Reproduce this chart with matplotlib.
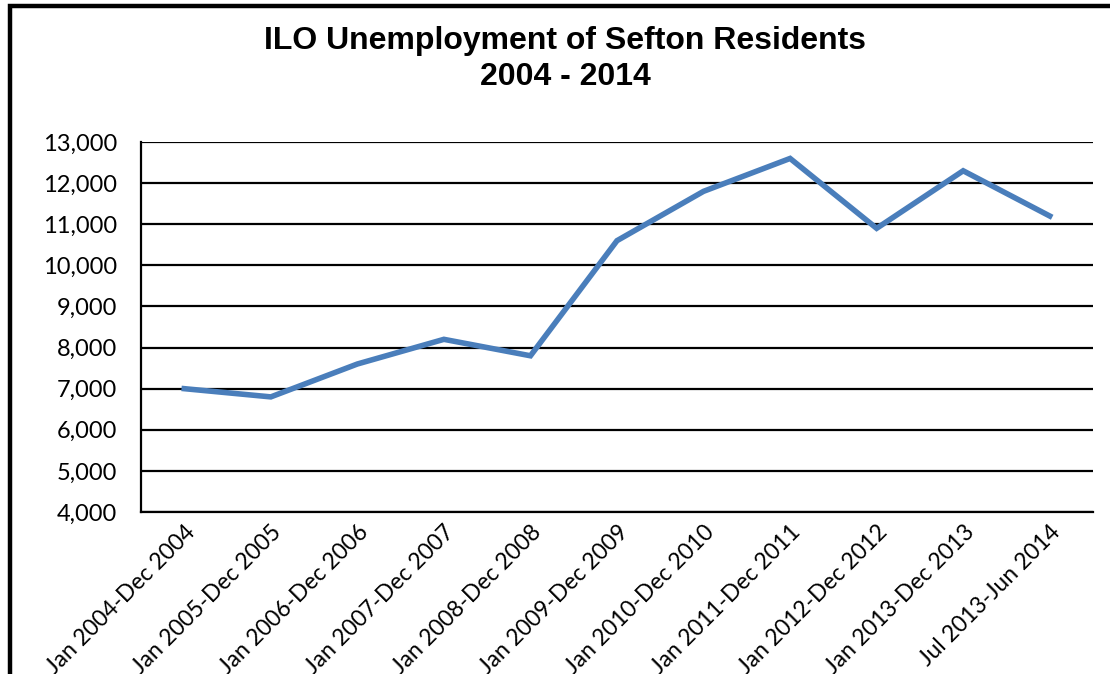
import matplotlib
matplotlib.use("Agg")
import matplotlib.pyplot as plt
from matplotlib.patches import Rectangle
from matplotlib.ticker import FuncFormatter

categories = ["Jan 2004-Dec 2004", "Jan 2005-Dec 2005", "Jan 2006-Dec 2006",
              "Jan 2007-Dec 2007", "Jan 2008-Dec 2008", "Jan 2009-Dec 2009",
              "Jan 2010-Dec 2010", "Jan 2011-Dec 2011", "Jan 2012-Dec 2012",
              "Jan 2013-Dec 2013", "Jul 2013-Jun 2014"]
values = [7000, 6800, 7600, 8200, 7800, 10600, 11800, 12600, 10900, 12300, 11200]
yticks = list(range(4000, 14000, 1000))

W, H = 1110, 674
fig = plt.figure(figsize=(W / 100, H / 100), dpi=100)
fig.patch.set_facecolor("white")

# outer chart border (cropped at right/bottom)
fig.add_artist(Rectangle((10 / W, -0.1), 1.2, 1 - 6 / H + 0.1, transform=fig.transFigure,
                         fill=False, edgecolor="black", linewidth=3.2))

ax = fig.add_axes([141 / W, 1 - 512 / H, (1093 - 141) / W, (512 - 142) / H])
x = list(range(len(categories)))
ax.plot(x, values, color="#4A7EBB", linewidth=4.0, solid_joinstyle="miter", zorder=3)
ax.set_xlim(-0.5, len(categories) - 0.5)
ax.set_ylim(4000, 13000)
ax.set_yticks(yticks)
ax.yaxis.set_major_formatter(FuncFormatter(lambda v, p: f"{int(v):,}"))
ax.grid(axis="y", color="black", linewidth=1.6)
ax.set_axisbelow(True)
for s in ["top", "right"]:
    ax.spines[s].set_visible(False)
for s in ["left", "bottom"]:
    ax.spines[s].set_linewidth(1.6)
ax.tick_params(axis="y", length=0, labelsize=17, pad=17)
ax.tick_params(axis="x", length=0, pad=7)
ax.set_xticks(x)
ax.set_xticklabels(categories, rotation=45, ha="right", rotation_mode="anchor",
                   fontsize=16.5, family="Lato")
for lab in ax.get_yticklabels():
    lab.set_family("Lato")

fig.text(565 / W, 1 - 41 / H, "ILO Unemployment of Sefton Residents", ha="center", va="center",
         fontsize=23, fontweight="bold", family="Liberation Sans")
fig.text(565 / W, 1 - 77 / H, "2004 - 2014", ha="center", va="center",
         fontsize=23, fontweight="bold", family="Liberation Sans")

fig.savefig("out.png", dpi=100)
